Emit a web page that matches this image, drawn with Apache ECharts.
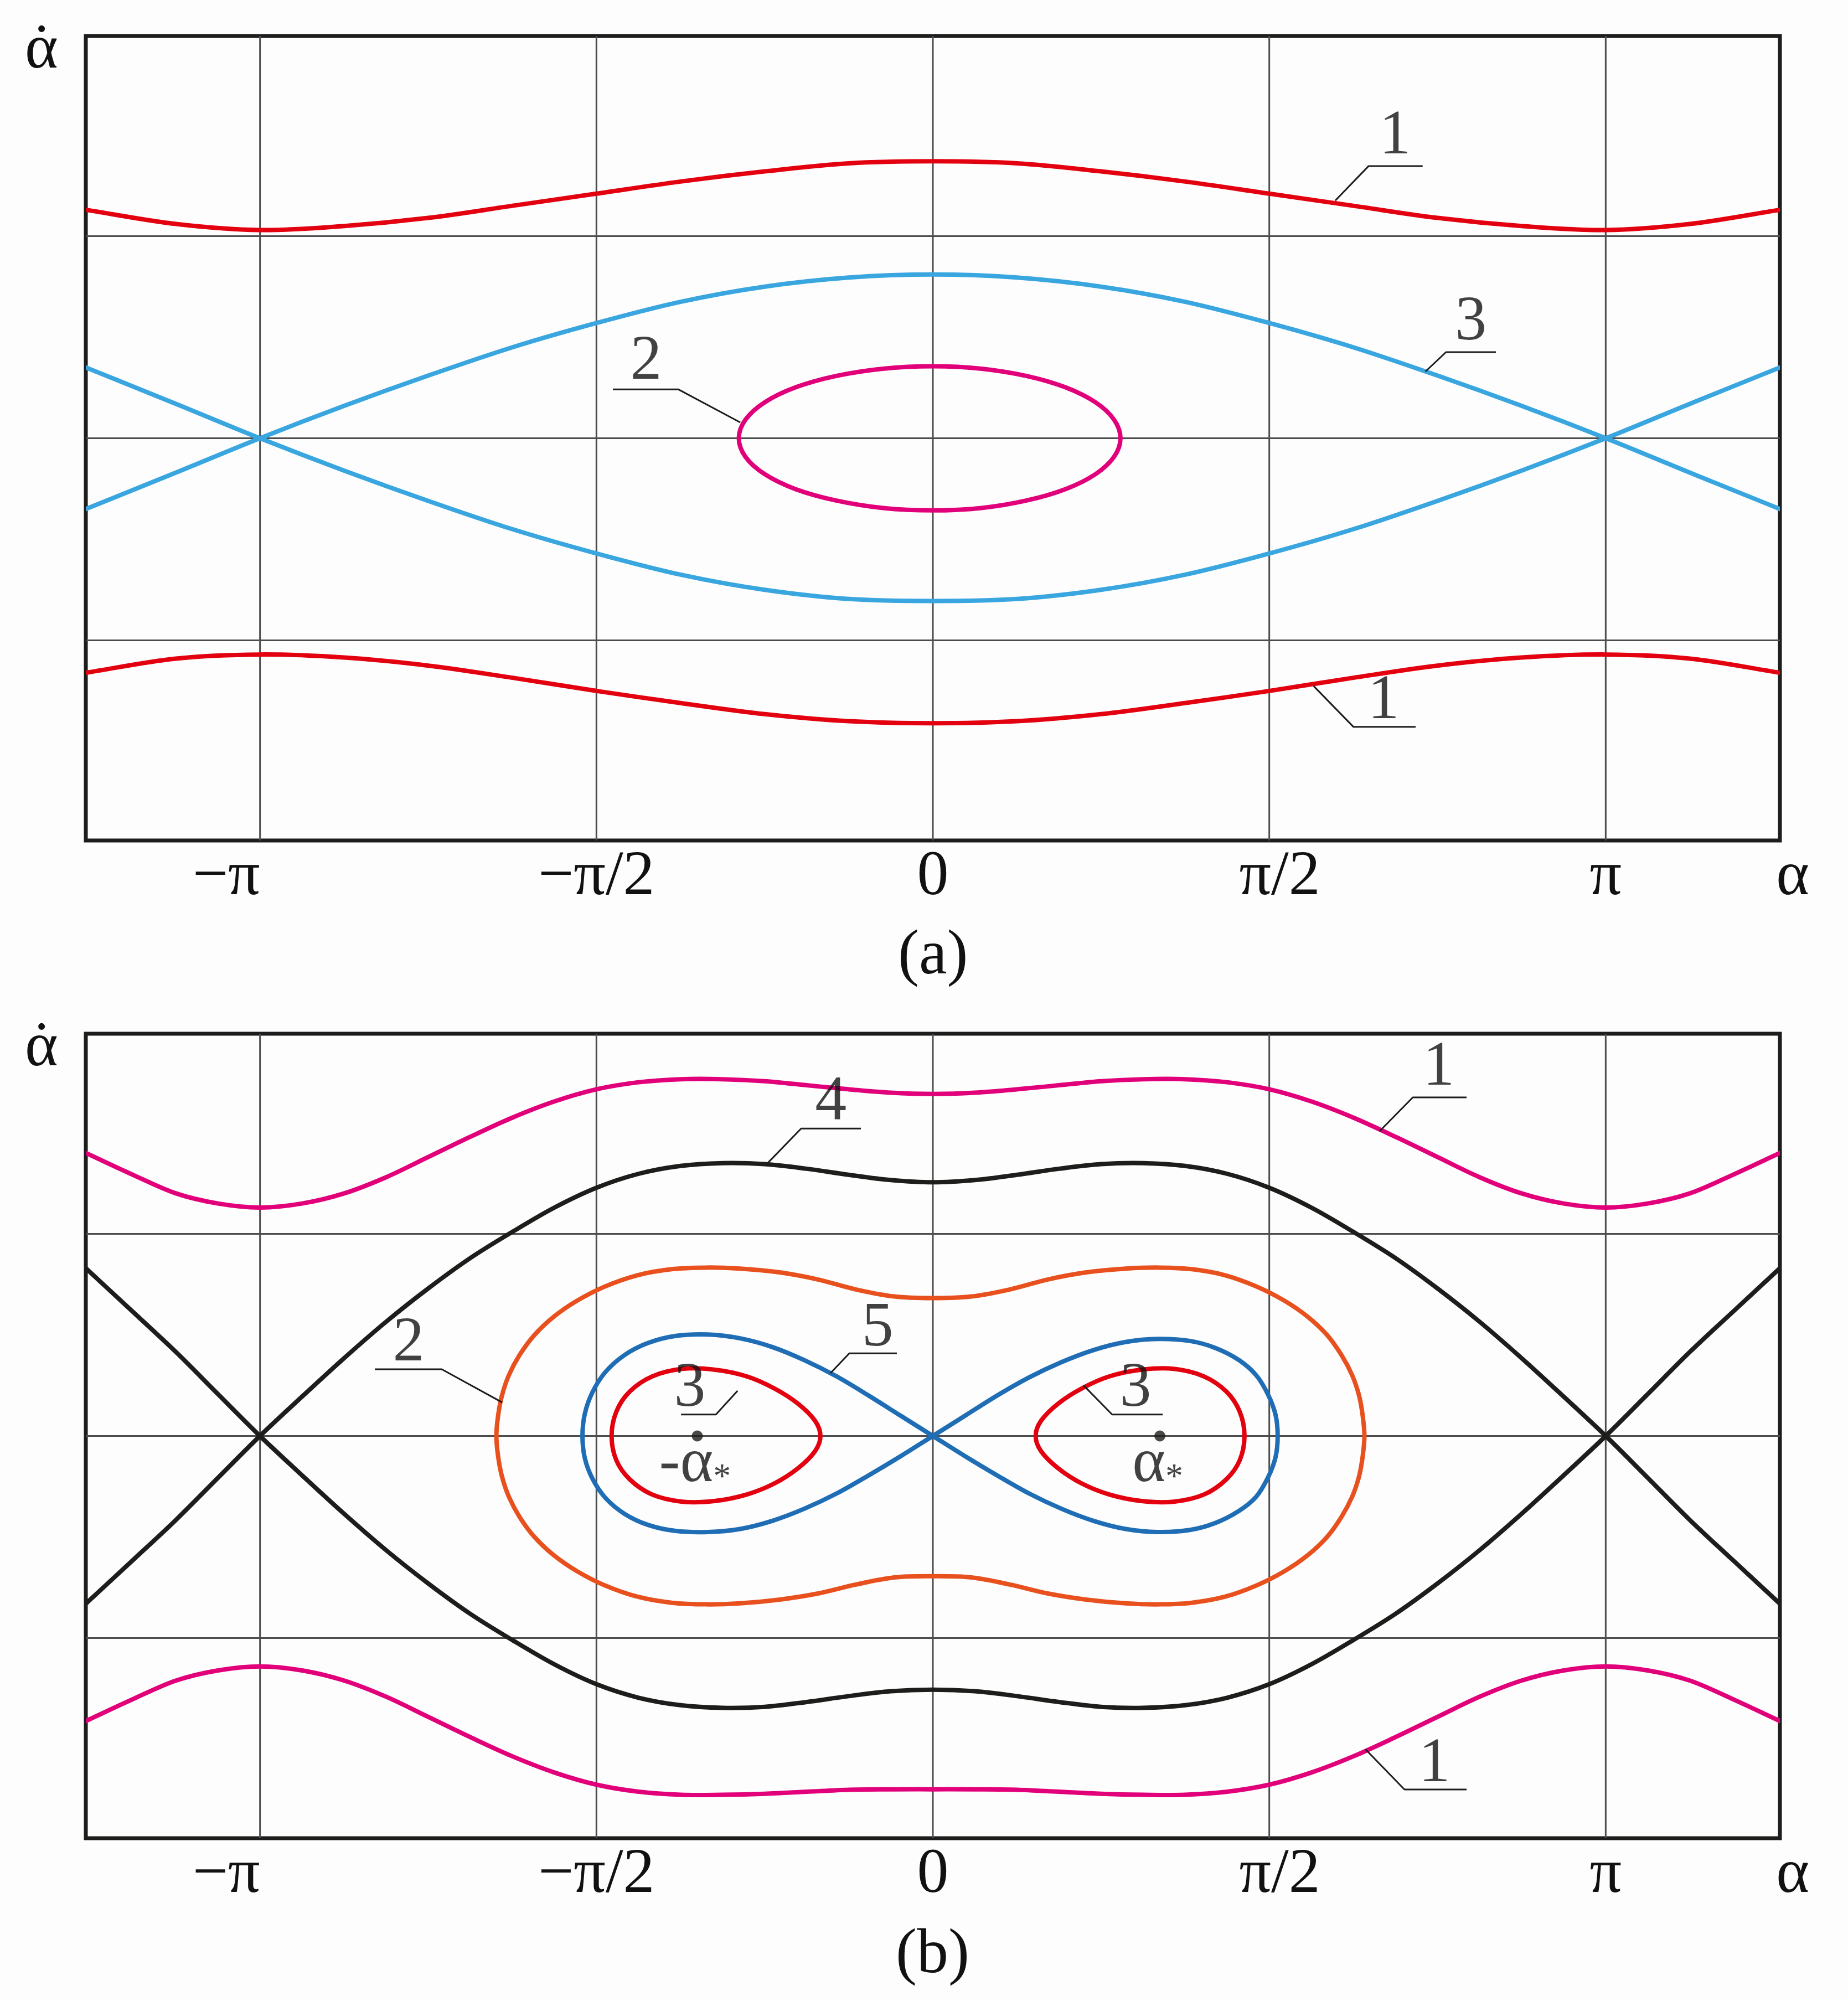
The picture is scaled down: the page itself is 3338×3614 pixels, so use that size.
<!DOCTYPE html>
<html>
<head>
<meta charset="utf-8">
<script src="https://cdn.jsdelivr.net/npm/echarts@6/dist/echarts.min.js"></script>
<style>
html, body { margin: 0; padding: 0; background: #fdfdfd; }
#main { width: 3338px; height: 3614px; }
</style>
</head>
<body>
<div id="main"></div>
<script>
var PI = Math.PI;
var FONT = 'Liberation Serif';
var INK = '#1d1d1b';

// axes
var X_MIN = -3.955, X_MAX = 3.955;
var Y_MIN = -1.99, Y_MAX = 1.99;
var xTicks = [-PI, -PI / 2, 0, PI / 2, PI];
var xLabelValues = [-PI, -PI / 2, 0, PI / 2, PI, X_MAX];
var xLabelTexts = ['{m|−π}', '−π/2', '0', '{p|π/2}', 'π', '{e|α}'];
var yGridLines = [-1, 0, 1];

// sample abscissae (alpha, rad)
var aSamples = [-3.955, -3.534, -3.142, -2.749, -2.356, -1.963, -1.571, -1.178, -0.785, -0.393, 0,
                0.393, 0.785, 1.178, 1.571, 1.963, 2.356, 2.749, 3.142, 3.534, 3.955];
var bSamples = [-3.955, -3.731, -3.534, -3.338, -3.142, -2.945, -2.749, -2.553, -2.356, -2.160, -1.963,
                -1.767, -1.571, -1.374, -1.178, -0.982, -0.785, -0.589, -0.393, -0.196, 0,
                0.196, 0.393, 0.589, 0.785, 0.982, 1.178, 1.374, 1.571, 1.767, 1.963,
                2.160, 2.356, 2.553, 2.749, 2.945, 3.142, 3.338, 3.534, 3.731, 3.955];

// ---- panel (a) ----
var a1Top    = [1.13, 1.06, 1.03, 1.05, 1.09, 1.15, 1.21, 1.27, 1.32, 1.36, 1.37, 1.36, 1.32, 1.27, 1.21, 1.15, 1.09, 1.05, 1.03, 1.06, 1.13];
var a1Bottom = [-1.16, -1.09, -1.07, -1.085, -1.125, -1.185, -1.25, -1.31, -1.365, -1.40, -1.41, -1.40, -1.365, -1.31, -1.25, -1.185, -1.125, -1.085, -1.07, -1.09, -1.16];
var a3Upper  = [-0.35, -0.17, 0, 0.16, 0.31, 0.45, 0.57, 0.675, 0.75, 0.795, 0.81, 0.795, 0.75, 0.675, 0.57, 0.45, 0.31, 0.16, 0, -0.17, -0.35];
var a3Lower  = [0.35, 0.17, 0, -0.16, -0.31, -0.45, -0.57, -0.675, -0.75, -0.795, -0.805, -0.795, -0.75, -0.675, -0.57, -0.45, -0.31, -0.16, 0, 0.17, 0.35];
var a2Loop = [[0.876, 0], [0.846, 0.092], [0.759, 0.178], [0.619, 0.252], [0.438, 0.308], [0.227, 0.344], [0, 0.356],
              [-0.234, 0.344], [-0.453, 0.308], [-0.641, 0.252], [-0.785, 0.178], [-0.875, 0.092], [-0.906, 0],
              [-0.875, -0.092], [-0.785, -0.178], [-0.641, -0.252], [-0.453, -0.308], [-0.234, -0.345], [0, -0.357],
              [0.227, -0.345], [0.438, -0.308], [0.619, -0.252], [0.759, -0.178], [0.846, -0.092], [0.876, 0]];

// ---- panel (b) ----
var b1Top    = [1.40, 1.29, 1.20, 1.15, 1.13, 1.15, 1.20, 1.28, 1.38, 1.48, 1.575, 1.655, 1.715, 1.75, 1.765, 1.765, 1.755, 1.735, 1.715, 1.698, 1.692,
                1.698, 1.715, 1.735, 1.755, 1.765, 1.765, 1.75, 1.715, 1.655, 1.575, 1.48, 1.38, 1.28, 1.20, 1.15, 1.13, 1.15, 1.20, 1.29, 1.40];
var b1Bottom = [-1.41, -1.30, -1.21, -1.16, -1.14, -1.16, -1.21, -1.29, -1.39, -1.49, -1.585, -1.665, -1.725, -1.76, -1.775, -1.775, -1.77, -1.76, -1.75, -1.748, -1.748,
                -1.748, -1.75, -1.76, -1.77, -1.775, -1.775, -1.76, -1.725, -1.665, -1.585, -1.49, -1.39, -1.29, -1.21, -1.16, -1.14, -1.16, -1.21, -1.30, -1.41];
var b4Upper  = [-0.83, -0.61, -0.415, -0.207, 0, 0.195, 0.385, 0.565, 0.73, 0.88, 1.01, 1.13, 1.228, 1.297, 1.336, 1.35, 1.345, 1.322, 1.292, 1.266, 1.255,
                1.266, 1.292, 1.322, 1.345, 1.35, 1.336, 1.297, 1.228, 1.13, 1.01, 0.88, 0.73, 0.565, 0.385, 0.195, 0, -0.207, -0.415, -0.61, -0.83];
var b4Lower  = [0.83, 0.61, 0.415, 0.207, 0, -0.195, -0.385, -0.565, -0.73, -0.88, -1.01, -1.13, -1.228, -1.295, -1.332, -1.345, -1.34, -1.316, -1.287, -1.263, -1.255,
                -1.263, -1.287, -1.316, -1.34, -1.345, -1.332, -1.295, -1.228, -1.13, -1.01, -0.88, -0.73, -0.565, -0.385, -0.195, 0, 0.207, 0.415, 0.61, 0.83];
var b2Loop = [[-2.038, 0], [-2.03, 0.1], [-2.012, 0.2], [-1.98, 0.3], [-1.93, 0.4], [-1.86, 0.5], [-1.77, 0.59],
              [-1.66, 0.67], [-1.53, 0.74], [-1.38, 0.795], [-1.22, 0.825], [-1.06, 0.833], [-0.9, 0.828],
              [-0.72, 0.81], [-0.54, 0.775], [-0.36, 0.725], [-0.18, 0.69], [0, 0.682],
              [0.18, 0.69], [0.36, 0.725], [0.54, 0.775], [0.72, 0.81], [0.9, 0.828], [1.06, 0.833], [1.21, 0.825],
              [1.365, 0.795], [1.51, 0.74], [1.64, 0.67], [1.75, 0.59], [1.84, 0.5], [1.908, 0.4], [1.958, 0.3],
              [1.99, 0.2], [2.007, 0.1], [2.015, 0],
              [2.007, -0.1], [1.99, -0.2], [1.958, -0.3], [1.908, -0.4], [1.84, -0.5], [1.75, -0.59], [1.64, -0.67],
              [1.51, -0.74], [1.365, -0.795], [1.21, -0.825], [1.06, -0.833], [0.9, -0.828], [0.72, -0.81],
              [0.54, -0.78], [0.36, -0.735], [0.18, -0.70], [0, -0.694],
              [-0.18, -0.70], [-0.36, -0.735], [-0.54, -0.78], [-0.72, -0.81], [-0.9, -0.828], [-1.06, -0.833],
              [-1.22, -0.825], [-1.38, -0.795], [-1.53, -0.74], [-1.66, -0.67], [-1.77, -0.59], [-1.86, -0.5],
              [-1.93, -0.4], [-1.98, -0.3], [-2.012, -0.2], [-2.03, -0.1], [-2.038, 0]];
var b5Eight = [[0, 0], [-0.15, 0.1], [-0.3, 0.2], [-0.45, 0.295], [-0.6, 0.375], [-0.75, 0.44], [-0.9, 0.483],
               [-1.05, 0.502], [-1.2, 0.495], [-1.33, 0.46], [-1.44, 0.40], [-1.53, 0.315], [-1.59, 0.215],
               [-1.625, 0.11], [-1.636, 0], [-1.625, -0.11], [-1.59, -0.21], [-1.53, -0.305], [-1.44, -0.385],
               [-1.33, -0.44], [-1.2, -0.47], [-1.05, -0.475], [-0.9, -0.46], [-0.75, -0.42], [-0.6, -0.36],
               [-0.45, -0.285], [-0.3, -0.195], [-0.15, -0.1], [0, 0],
               [0.15, 0.1], [0.3, 0.2], [0.45, 0.29], [0.6, 0.365], [0.75, 0.425], [0.9, 0.465], [1.05, 0.48],
               [1.2, 0.47], [1.32, 0.435], [1.43, 0.375], [1.51, 0.30], [1.565, 0.205], [1.60, 0.105], [1.61, 0],
               [1.60, -0.105], [1.565, -0.205], [1.51, -0.30], [1.43, -0.37], [1.32, -0.43], [1.2, -0.465],
               [1.05, -0.475], [0.9, -0.46], [0.75, -0.42], [0.6, -0.36], [0.45, -0.285], [0.3, -0.195],
               [0.15, -0.1], [0, 0]];
var b3Left = [[-1.50, 0], [-1.478, 0.12], [-1.415, 0.22], [-1.31, 0.295], [-1.17, 0.332], [-1.02, 0.328],
              [-0.87, 0.295], [-0.74, 0.235], [-0.63, 0.16], [-0.55, 0.075], [-0.525, 0], [-0.55, -0.075],
              [-0.63, -0.16], [-0.74, -0.235], [-0.87, -0.29], [-1.02, -0.322], [-1.17, -0.325], [-1.31, -0.29],
              [-1.415, -0.215], [-1.478, -0.12], [-1.50, 0]];
var b3Right = [[1.455, 0], [1.433, 0.12], [1.37, 0.22], [1.265, 0.295], [1.125, 0.332], [0.975, 0.328],
               [0.825, 0.295], [0.695, 0.235], [0.585, 0.16], [0.505, 0.075], [0.48, 0], [0.505, -0.075],
               [0.585, -0.16], [0.695, -0.235], [0.825, -0.29], [0.975, -0.322], [1.125, -0.325], [1.265, -0.29],
               [1.37, -0.215], [1.433, -0.12], [1.455, 0]];
var equilibria = [-1.10, 1.06];
var equilibriaLabels = ['-α{s|*}', 'α{s|*}'];

// curve labels: [text, gridIndex, leader polyline, text centre]
var tags = [
    ['1', 0, [[1.879, 1.176], [2.034, 1.346], [2.287, 1.346]], [2.158, 1.491]],
    ['3', 0, [[2.300, 0.330], [2.396, 0.426], [2.629, 0.426]], [2.512, 0.571]],
    ['2', 0, [[-0.899, 0.078], [-1.189, 0.242], [-1.494, 0.242]], [-1.339, 0.377]],
    ['1', 0, [[1.778, -1.226], [1.964, -1.428], [2.254, -1.428]], [2.104, -1.302]],
    ['1', 1, [[2.086, 1.508], [2.241, 1.675], [2.492, 1.675]], [2.362, 1.820]],
    ['4', 1, [[-0.775, 1.346], [-0.615, 1.521], [-0.336, 1.521]], [-0.476, 1.647]],
    ['2', 1, [[-2.011, 0.166], [-2.293, 0.330], [-2.605, 0.330]], [-2.448, 0.456]],
    ['5', 1, [[-0.478, 0.311], [-0.390, 0.409], [-0.168, 0.409]], [-0.258, 0.530]],
    ['3', 1, [[-0.912, 0.223], [-1.013, 0.106], [-1.176, 0.106]], [-1.135, 0.231]],
    ['3', 1, [[0.703, 0.251], [0.837, 0.106], [1.073, 0.106]], [0.946, 0.231]],
    ['1', 1, [[2.019, -1.549], [2.202, -1.749], [2.492, -1.749]], [2.342, -1.626]]
];

function zip(xs, ys) {
    var out = [];
    for (var i = 0; i < xs.length; i++) out.push([xs[i], ys[i]]);
    return out;
}

// smooth path through pixel points (length-weighted Catmull-Rom)
function smoothPath(pts, closed) {
    var n = pts.length;
    function tangent(i) {
        var prev = i > 0 ? pts[i - 1] : (closed ? pts[n - 2] : pts[i]);
        var next = i < n - 1 ? pts[i + 1] : (closed ? pts[1] : pts[i]);
        var d0 = Math.hypot(pts[i][0] - prev[0], pts[i][1] - prev[1]);
        var d1 = Math.hypot(next[0] - pts[i][0], next[1] - pts[i][1]);
        var s = d0 + d1 || 1;
        var vx = next[0] - prev[0], vy = next[1] - prev[1];
        return { vx: vx, vy: vy, a: d0 / s, b: d1 / s };
    }
    var d = 'M' + pts[0][0] + ' ' + pts[0][1];
    for (var i = 0; i < n - 1; i++) {
        var t1 = tangent(i), t2 = tangent(i + 1);
        var c1x = pts[i][0] + t1.vx * t1.b / 3, c1y = pts[i][1] + t1.vy * t1.b / 3;
        var c2x = pts[i + 1][0] - t2.vx * t2.a / 3, c2y = pts[i + 1][1] - t2.vy * t2.a / 3;
        d += ' C' + c1x + ' ' + c1y + ' ' + c2x + ' ' + c2y + ' ' + pts[i + 1][0] + ' ' + pts[i + 1][1];
    }
    return d;
}

function curve(gi, data, color) {
    var closed = data[0][0] === data[data.length - 1][0] && data[0][1] === data[data.length - 1][1];
    return {
        type: 'custom', xAxisIndex: gi, yAxisIndex: gi, data: data, silent: true, z: 3, clip: true,
        encode: { x: 0, y: 1 },
        renderItem: function (params, api) {
            if (params.dataIndex !== 0) return null;
            var px = data.map(function (p) { return api.coord(p); });
            return {
                type: 'path',
                shape: { pathData: smoothPath(px, closed) },
                style: { stroke: color, lineWidth: 8, fill: 'none', lineJoin: 'round', lineCap: 'round' }
            };
        }
    };
}

var series = [];

// grid lines
[0, 1].forEach(function (gi) {
    xTicks.forEach(function (v) {
        series.push({
            type: 'line', xAxisIndex: gi, yAxisIndex: gi, data: [[v, Y_MIN], [v, Y_MAX]],
            symbol: 'none', silent: true, z: 1, lineStyle: { color: '#4d4d4d', width: 3 }
        });
    });
    yGridLines.forEach(function (v) {
        series.push({
            type: 'line', xAxisIndex: gi, yAxisIndex: gi, data: [[X_MIN, v], [X_MAX, v]],
            symbol: 'none', silent: true, z: 1, lineStyle: { color: '#4d4d4d', width: 3 }
        });
    });
});

// panel (a)
series.push(curve(0, zip(aSamples, a1Top), '#e3000f'));
series.push(curve(0, zip(aSamples, a1Bottom), '#e3000f'));
series.push(curve(0, zip(aSamples, a3Upper), '#3aa6e0'));
series.push(curve(0, zip(aSamples, a3Lower), '#3aa6e0'));
series.push(curve(0, a2Loop, '#e2007a'));

// panel (b)
series.push(curve(1, zip(bSamples, b1Top), '#e2007a'));
series.push(curve(1, zip(bSamples, b1Bottom), '#e2007a'));
series.push(curve(1, zip(bSamples, b4Upper), '#1d1d1b'));
series.push(curve(1, zip(bSamples, b4Lower), '#1d1d1b'));
series.push(curve(1, b2Loop, '#e8501e'));
series.push(curve(1, b5Eight, '#1f6eb5'));
series.push(curve(1, b3Left, '#e3000f'));
series.push(curve(1, b3Right, '#e3000f'));

// equilibrium points
series.push({
    type: 'scatter', xAxisIndex: 1, yAxisIndex: 1, silent: true, z: 6,
    symbol: 'circle', symbolSize: 20, itemStyle: { color: INK },
    data: equilibria.map(function (a, i) {
        return { value: [a, 0], name: equilibriaLabels[i] };
    }),
    label: {
        show: true, position: 'inside', offset: [-4, 52],
        formatter: function (p) { return p.name; },
        fontFamily: FONT, fontSize: 114, color: '#111', textBorderWidth: 0,
        rich: { s: { fontFamily: FONT, fontSize: 64, color: '#111', verticalAlign: 'bottom', lineHeight: 14 } }
    }
});

// curve number tags with leaders
tags.forEach(function (t) {
    series.push({
        type: 'line', xAxisIndex: t[1], yAxisIndex: t[1], data: t[2],
        symbol: 'none', silent: true, z: 5, lineStyle: { color: INK, width: 3 }
    });
    series.push({
        type: 'scatter', xAxisIndex: t[1], yAxisIndex: t[1], silent: true, z: 6,
        symbolSize: 1, itemStyle: { color: 'rgba(0,0,0,0)' },
        data: [{ value: t[3], name: t[0] }],
        label: {
            show: true, position: 'inside', formatter: '{b}',
            fontFamily: FONT, fontSize: 114, color: '#111', textBorderWidth: 0
        }
    });
});

function tickText(v) {
    for (var i = 0; i < xLabelValues.length; i++) {
        if (Math.abs(xLabelValues[i] - v) < 1e-6) return xLabelTexts[i];
    }
    return '';
}

function xAxisFor(gi) {
    return {
        gridIndex: gi, type: 'value', min: X_MIN, max: X_MAX,
        axisLine: { show: false, onZero: false }, axisTick: { show: false }, splitLine: { show: false },
        axisLabel: {
            show: true, customValues: xLabelValues, margin: 10,
            showMinLabel: true, showMaxLabel: true, hideOverlap: false,
            fontFamily: FONT, fontSize: 114, color: '#111',
            formatter: function (v) { return tickText(v); },
            rich: {
                m: { fontFamily: FONT, fontSize: 114, color: '#111', padding: [0, 122, 0, 0] },
                p: { fontFamily: FONT, fontSize: 114, color: '#111', padding: [0, 0, 0, 38] },
                e: { fontFamily: FONT, fontSize: 114, color: '#111', padding: [0, 0, 0, 46] }
            }
        }
    };
}

function yAxisFor(gi) {
    return {
        gridIndex: gi, type: 'value', min: Y_MIN, max: Y_MAX,
        axisLine: { show: false, onZero: false }, axisTick: { show: false },
        axisLabel: { show: false }, splitLine: { show: false }
    };
}

function titleAt(text, left, top) {
    return {
        text: text, left: left, top: top, padding: 0,
        textStyle: { fontFamily: FONT, fontSize: 114, fontWeight: 'normal', color: '#111', lineHeight: 114 }
    };
}

var chart = echarts.init(document.getElementById('main'), null, { renderer: 'canvas' });
chart.setOption({
    backgroundColor: '#fdfdfd',
    animation: false,
    title: [
        titleAt('α', 45, 35),
        titleAt('\u02d9', 56, 35),
        titleAt('α', 45, 1837),
        titleAt('\u02d9', 56, 1837),
        titleAt('(a)', 1622, 1671),
        titleAt('(b)', 1618, 3475)
    ],
    grid: [
        { left: 155, top: 65, width: 3060, height: 1453, show: true, borderColor: INK, borderWidth: 7, backgroundColor: 'transparent' },
        { left: 155, top: 1867, width: 3060, height: 1453, show: true, borderColor: INK, borderWidth: 7, backgroundColor: 'transparent' }
    ],
    xAxis: [xAxisFor(0), xAxisFor(1)],
    yAxis: [yAxisFor(0), yAxisFor(1)],
    series: series
});
</script>
</body>
</html>
